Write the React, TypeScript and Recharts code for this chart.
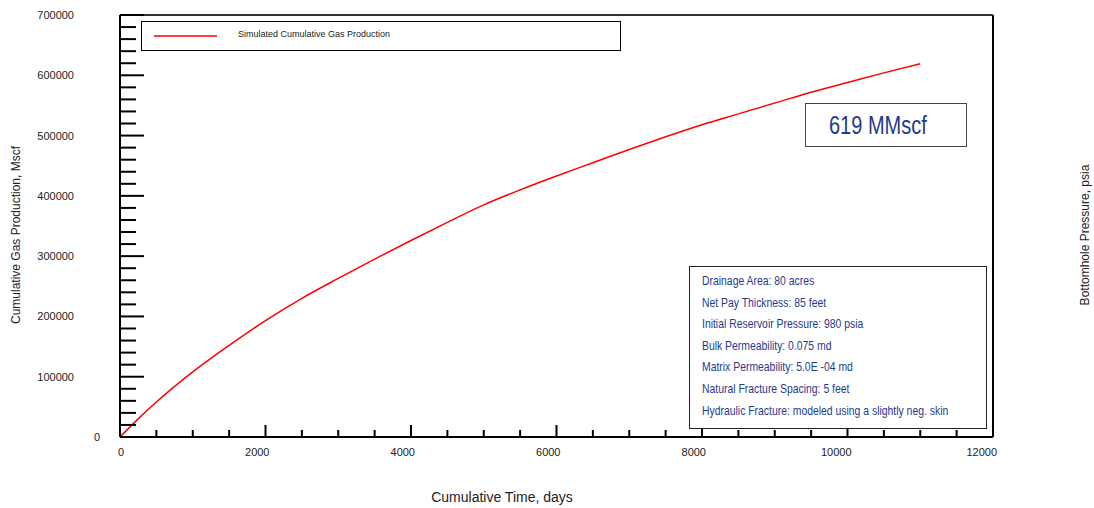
import React from 'react';
import { LineChart, Line, XAxis, YAxis, ReferenceLine, Legend } from 'recharts';

const timeDays = [0, 250, 500, 1000, 1500, 2000, 2500, 3000, 3500, 4000, 4500, 5000, 5500, 6000, 6500, 7000, 7500, 8000, 8500, 9000, 9500, 10000, 10500, 11000];
const cumGasMscf = [0, 30000, 58000, 108000, 152000, 193000, 230000, 263000, 295000, 326000, 356000, 385000, 410000, 433000, 455000, 477000, 498000, 518000, 536000, 554000, 572000, 588000, 604000, 619000];

const xTicks = [0, 500, 1000, 1500, 2000, 2500, 3000, 3500, 4000, 4500, 5000, 5500, 6000, 6500, 7000, 7500, 8000, 8500, 9000, 9500, 10000, 10500, 11000, 11500, 12000];
const xLabelTicks = [0, 2000, 4000, 6000, 8000, 10000, 12000];
const yTicks = [0, 20000, 40000, 60000, 80000, 100000, 120000, 140000, 160000, 180000, 200000, 220000, 240000, 260000, 280000, 300000, 320000, 340000, 360000, 380000, 400000, 420000, 440000, 460000, 480000, 500000, 520000, 540000, 560000, 580000, 600000, 620000, 640000, 660000, 680000, 700000];
const yLabelTicks = [0, 100000, 200000, 300000, 400000, 500000, 600000, 700000];

const seriesName = 'Simulated Cumulative Gas Production';
const totalLabel = '619 MMscf';
const paramLines = [
  'Drainage Area: 80 acres',
  'Net Pay Thickness: 85 feet',
  'Initial Reservoir Pressure: 980  psia',
  'Bulk Permeability: 0.075  md',
  'Matrix Permeability: 5.0E -04 md',
  'Natural Fracture Spacing: 5 feet',
  'Hydraulic Fracture: modeled using a slightly neg. skin',
];
const xTitle = 'Cumulative Time, days';
const yTitle = 'Cumulative Gas Production, Mscf';
const y2Title = 'Bottomhole Pressure, psia';

const data = timeDays.map((t, i) => ({ t, v: cumGasMscf[i] }));

const FONT = '"Liberation Sans", Arial, sans-serif';
const BLUE = '#1f3a8e';

const YTick = (props: any) => {
  const { x, y, payload } = props;
  const major = yLabelTicks.includes(payload.value);
  return (
    <g>
      <line x1={x} x2={x + (major ? 24 : 16)} y1={y} y2={y} stroke="#000" strokeWidth={2} />
      {major && (
        <text x={payload.value === 0 ? x - 20 : x - 46} y={y} textAnchor="end" dominantBaseline="central" fontSize={11} fontFamily={FONT} fill="#222">
          {payload.value}
        </text>
      )}
    </g>
  );
};

const XTick = (props: any) => {
  const { x, y, payload } = props;
  const major = xLabelTicks.includes(payload.value);
  return (
    <g>
      <line x1={x} x2={x} y1={y} y2={y - (major ? 12 : 7)} stroke="#000" strokeWidth={2} />
      {major && (
        <text x={x + 4} y={y + 15} textAnchor="end" dominantBaseline="central" fontSize={11} fontFamily={FONT} fill="#222">
          {payload.value}
        </text>
      )}
    </g>
  );
};

const LegendBox = () => (
  <div style={{ width: 480, height: 30, border: '1.5px solid #000', boxSizing: 'border-box', position: 'relative', background: '#fff' }}>
    <svg width={80} height={28} style={{ position: 'absolute', left: 10, top: 0 }}>
      <line x1={2} x2={65} y1={14} y2={14} stroke="#ff0000" strokeWidth={1.5} />
    </svg>
    <span style={{ position: 'absolute', left: 96, top: 7, fontSize: 9, fontFamily: FONT, color: '#222', whiteSpace: 'nowrap' }}>{seriesName}</span>
  </div>
);

export default function App() {
  return (
    <div style={{ position: 'absolute', left: 0, top: 0, width: 1094, height: 508, background: '#fff' }}>
      <LineChart width={1094} height={508} data={data} margin={{ top: 15, right: 0, bottom: 41, left: 60 }}>
        <XAxis
          dataKey="t"
          type="number"
          domain={[0, 12000]}
          ticks={xTicks}
          interval={0}
          tickSize={0}
          tickMargin={0}
          tickLine={false}
          height={30}
          axisLine={{ stroke: '#000', strokeWidth: 2 }}
          tick={<XTick />}
          label={(p: any) => (
            <text x={502} y={497} textAnchor="middle" dominantBaseline="central" fontSize={14} fontFamily={FONT} fill="#222">{xTitle}</text>
          )}
        />
        <YAxis
          type="number"
          domain={[0, 700000]}
          ticks={yTicks}
          interval={0}
          tickSize={0}
          tickMargin={0}
          tickLine={false}
          width={60}
          axisLine={{ stroke: '#000', strokeWidth: 2 }}
          tick={<YTick />}
          label={(p: any) => (
            <text x={16} y={235} transform="rotate(-90 16 235)" textAnchor="middle" dominantBaseline="central" fontSize={12} fontFamily={FONT} fill="#222">{yTitle}</text>
          )}
        />
        <YAxis
          yAxisId="r"
          orientation="right"
          domain={[0, 1]}
          width={101}
          tick={false}
          tickLine={false}
          axisLine={{ stroke: '#000', strokeWidth: 2 }}
          label={(p: any) => (
            <text x={1085} y={235} transform="rotate(-90 1085 235)" textAnchor="middle" dominantBaseline="central" fontSize={12} fontFamily={FONT} fill="#222">{y2Title}</text>
          )}
        />
        <ReferenceLine y={700000} stroke="#333" strokeWidth={2} />
        <Legend layout="vertical" align="center" verticalAlign="middle" content={<LegendBox />} wrapperStyle={{ position: 'absolute', left: 141, top: 21, width: 480, height: 30 }} />
        <Line type="monotone" dataKey="v" name={seriesName} stroke="#ff0000" strokeWidth={1.5} dot={false} isAnimationActive={false} />
      </LineChart>
      <div style={{ position: 'absolute', left: 805, top: 103, width: 162, height: 44, border: '1.5px solid #444', boxSizing: 'border-box', background: '#fff' }}>
        <span style={{ position: 'absolute', left: 23, top: 6, fontFamily: FONT, fontSize: 25, lineHeight: '30px', color: BLUE, whiteSpace: 'nowrap', transform: 'scaleX(0.8)', transformOrigin: '0 0' }}>{totalLabel}</span>
      </div>
      <div style={{ position: 'absolute', left: 689, top: 266, width: 298, height: 163, border: '1.5px solid #222', boxSizing: 'border-box', background: '#fff' }}>
        {paramLines.map((s, i) => (
          <div key={i} style={{ position: 'absolute', left: 12, top: 6 + i * 21.6, height: 16, lineHeight: '16px', fontFamily: FONT, fontSize: 13, color: BLUE, whiteSpace: 'nowrap', transform: 'scaleX(0.8)', transformOrigin: '0 0' }}>{s}</div>
        ))}
      </div>
    </div>
  );
}
